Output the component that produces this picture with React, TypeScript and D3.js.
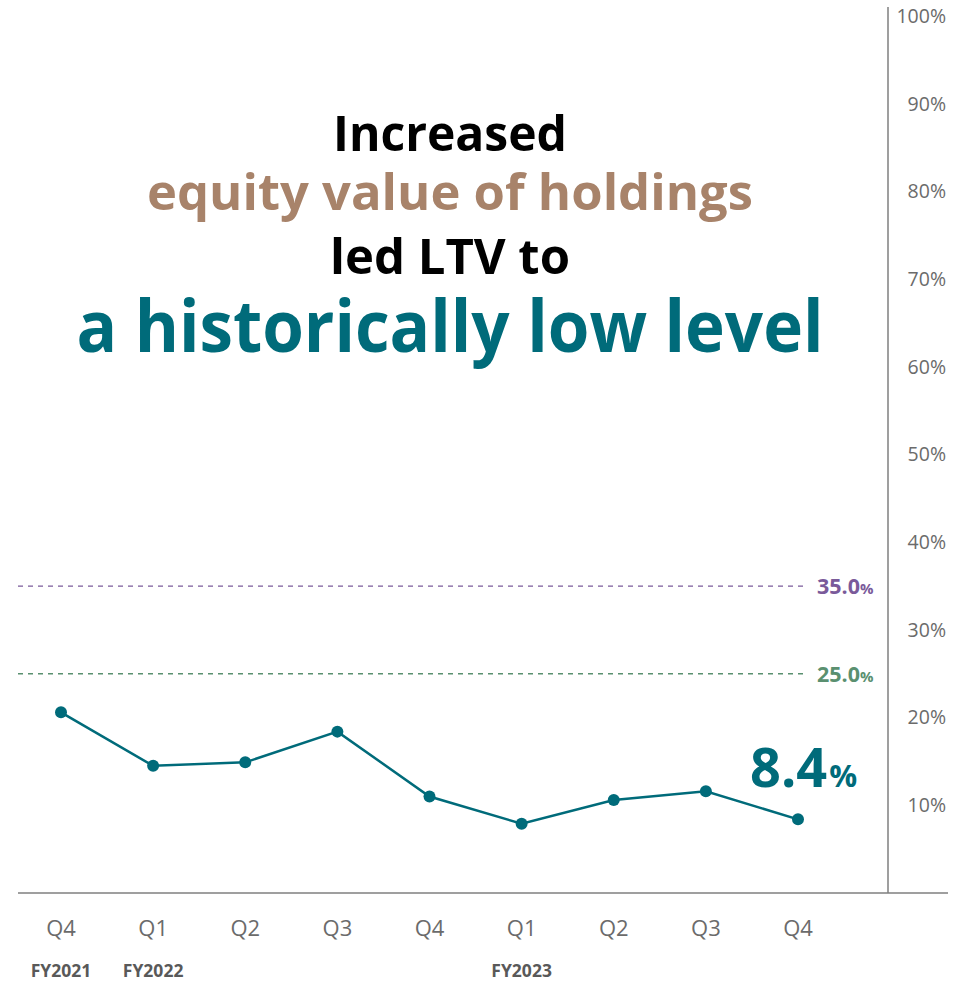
import React from "react";
import * as d3 from "d3";

const quarters = ["Q4", "Q1", "Q2", "Q3", "Q4", "Q1", "Q2", "Q3", "Q4"];
const fiscalYears = ["FY2021", "FY2022", "", "", "", "FY2023", "", "", ""];
const ltvValues = [20.6, 14.5, 14.9, 18.4, 11.0, 7.9, 10.6, 11.6, 8.4];
const yTicks = [10, 20, 30, 40, 50, 60, 70, 80, 90, 100];
const thresholds = [
  { value: 35.0, color: "#7a5a9a" },
  { value: 25.0, color: "#5a9070" },
];
const titleLines = [
  { text: "Increased", color: "#000000", size: 49, y: 151, width: 234 },
  { text: "equity value of holdings", color: "#a8836a", size: 50, y: 210, width: 606 },
  { text: "led LTV to", color: "#000000", size: 48, y: 274, width: 240 },
  { text: "a historically low level", color: "#006b7a", size: 72, y: 352, width: 747 },
];
const lastLabel = "8.4";

const W = 973;
const H = 982;
const TEAL = "#006b7a";
const AXIS = "#7f7f7f";
const FONT = "'Open Sans', 'Noto Sans', sans-serif";

export default function App() {
  const x = d3
    .scalePoint<number>()
    .domain(quarters.map((_, i) => i))
    .range([61, 798]);
  const y = d3.scaleLinear().domain([0, 100]).range([893, 16]);

  const line = d3
    .line<number>()
    .x((_, i) => x(i) as number)
    .y((d) => y(d));

  return (
    <svg
      width={W}
      height={H}
      style={{ position: "absolute", left: 0, top: 0, background: "#fff" }}
      fontFamily={FONT}
    >
      {/* title */}
      {titleLines.map((t, i) => (
        <text
          key={i}
          x={450}
          y={t.y}
          textAnchor="middle"
          fontWeight={700}
          fontSize={t.size}
          fill={t.color}
          textLength={t.width}
          lengthAdjust="spacingAndGlyphs"
        >
          {t.text}
        </text>
      ))}

      {/* axes */}
      <line x1={888} x2={888} y1={7} y2={y(0)} stroke={AXIS} strokeWidth={1.5} />
      <line x1={18} x2={948} y1={y(0)} y2={y(0)} stroke={AXIS} strokeWidth={1.5} />

      {yTicks.map((t) => (
        <text
          key={t}
          x={946}
          y={y(t)}
          dy="0.35em"
          textAnchor="end"
          fontSize={19.5}
          fill="#6b6b6b"
        >
          {t}%
        </text>
      ))}

      {/* threshold lines */}
      {thresholds.map((th) => (
        <g key={th.value}>
          <line
            x1={18}
            x2={806}
            y1={y(th.value)}
            y2={y(th.value)}
            stroke={th.color}
            strokeWidth={1.3}
            strokeDasharray="5,5"
          />
          <text x={817} y={y(th.value) + 8} fill={th.color} fontWeight={700}>
            <tspan fontSize={21.5}>{th.value.toFixed(1)}</tspan>
            <tspan fontSize={15}>%</tspan>
          </text>
        </g>
      ))}

      {/* series */}
      <path d={line(ltvValues) || ""} fill="none" stroke={TEAL} strokeWidth={2.5} />
      {ltvValues.map((v, i) => (
        <circle key={i} cx={x(i)} cy={y(v)} r={6} fill={TEAL} />
      ))}

      <text x={750} y={787} fill={TEAL} fontWeight={700}>
        <tspan fontSize={54}>{lastLabel}</tspan>
        <tspan fontSize={31} dx={2}>%</tspan>
      </text>

      {/* x labels */}
      {quarters.map((q, i) => (
        <text
          key={i}
          x={x(i)}
          y={936}
          textAnchor="middle"
          fontSize={22}
          fill="#6b6b6b"
        >
          {q}
        </text>
      ))}
      {fiscalYears.map((fy, i) =>
        fy ? (
          <text
            key={i}
            x={x(i)}
            y={977}
            textAnchor="middle"
            fontSize={17.5}
            fontWeight={700}
            fill="#595959"
          >
            {fy}
          </text>
        ) : null
      )}
    </svg>
  );
}
